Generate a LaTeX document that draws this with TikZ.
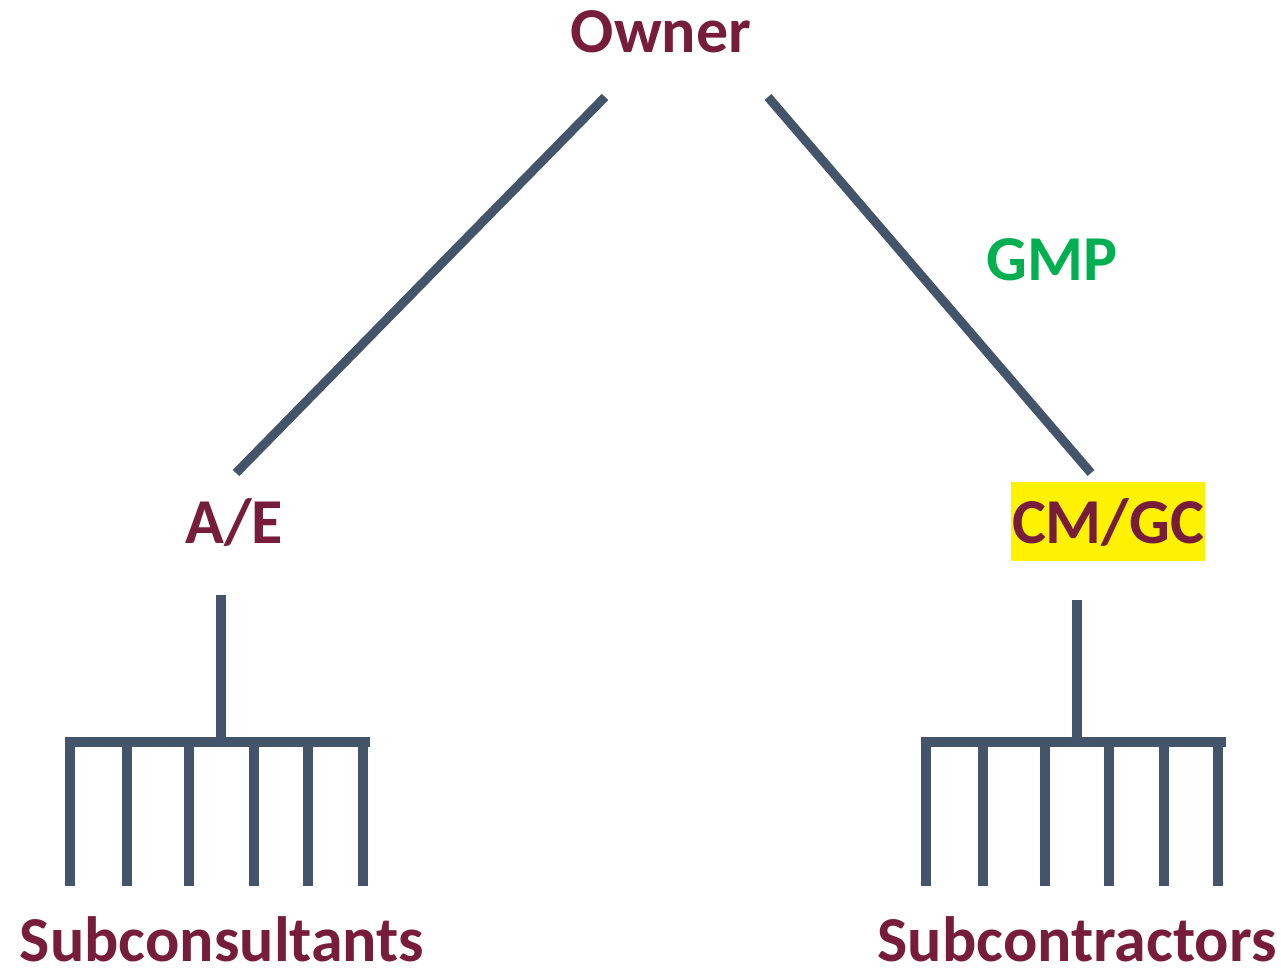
\documentclass[tikz,border=0pt]{standalone}
\usepackage{fontspec}
\setmainfont{Carlito}
\definecolor{maroon}{RGB}{120,28,60}
\definecolor{slate}{HTML}{44546A}
\definecolor{gmpgreen}{HTML}{00B050}
\tikzset{
  party/.style={text=maroon, font=\bfseries\fontsize{64}{72}\selectfont, inner sep=0pt, anchor=base},
  link/.style={draw=slate, line width=9pt, line cap=butt},
  fork/.style={draw=slate, line width=10.5pt, line cap=butt},
  price/.style={text=gmpgreen, font=\bfseries\fontsize{64}{72}\selectfont, inner sep=0pt, anchor=base},
  highlight/.style={fill=yellow, inner xsep=1pt, inner ysep=0pt, text height=61pt, text depth=18pt}
}
\begin{document}
\begin{tikzpicture}[x=1pt, y=-1pt]
\useasboundingbox (0,0) rectangle (1281,968);

% parties
\node[party] (owner) at (661,53) {Owner};
\node[party] (ae) at (234,543) {A/E};
\node[party, highlight] (cm) at (1108,543) {CM/GC};
\node[price] (gmp) at (1052,280) {GMP};
\node[party] (subcons) at (222,961) {Subconsultants};
\node[party] (subcont) at (1077,961) {Subcontractors};

% contract lines from the owner
\coordinate (ownerL) at (605,97);
\coordinate (ownerR) at (768,97);
\coordinate (aeTop) at (236,473);
\coordinate (cmTop) at (1091,473);
\draw[link] (ownerL) -- (aeTop);
\draw[link] (ownerR) -- (cmTop);

% A/E fan-out to subconsultants
\coordinate (aeStem) at (221,595);
\coordinate (aeJoin) at (221,742);
\draw[fork] (aeStem) -- (aeJoin);
\draw[fork] (65,742) -- (370,742);
\foreach \x in {70,127,189,254,308,363}
  \draw[fork] (\x,742) -- (\x,886);

% CM/GC fan-out to subcontractors
\coordinate (cmStem) at (1077,600);
\coordinate (cmJoin) at (1077,742);
\draw[fork] (cmStem) -- (cmJoin);
\draw[fork] (921,742) -- (1226,742);
\foreach \x in {926,983,1045,1109,1164,1218}
  \draw[fork] (\x,742) -- (\x,886);
\end{tikzpicture}
\end{document}
